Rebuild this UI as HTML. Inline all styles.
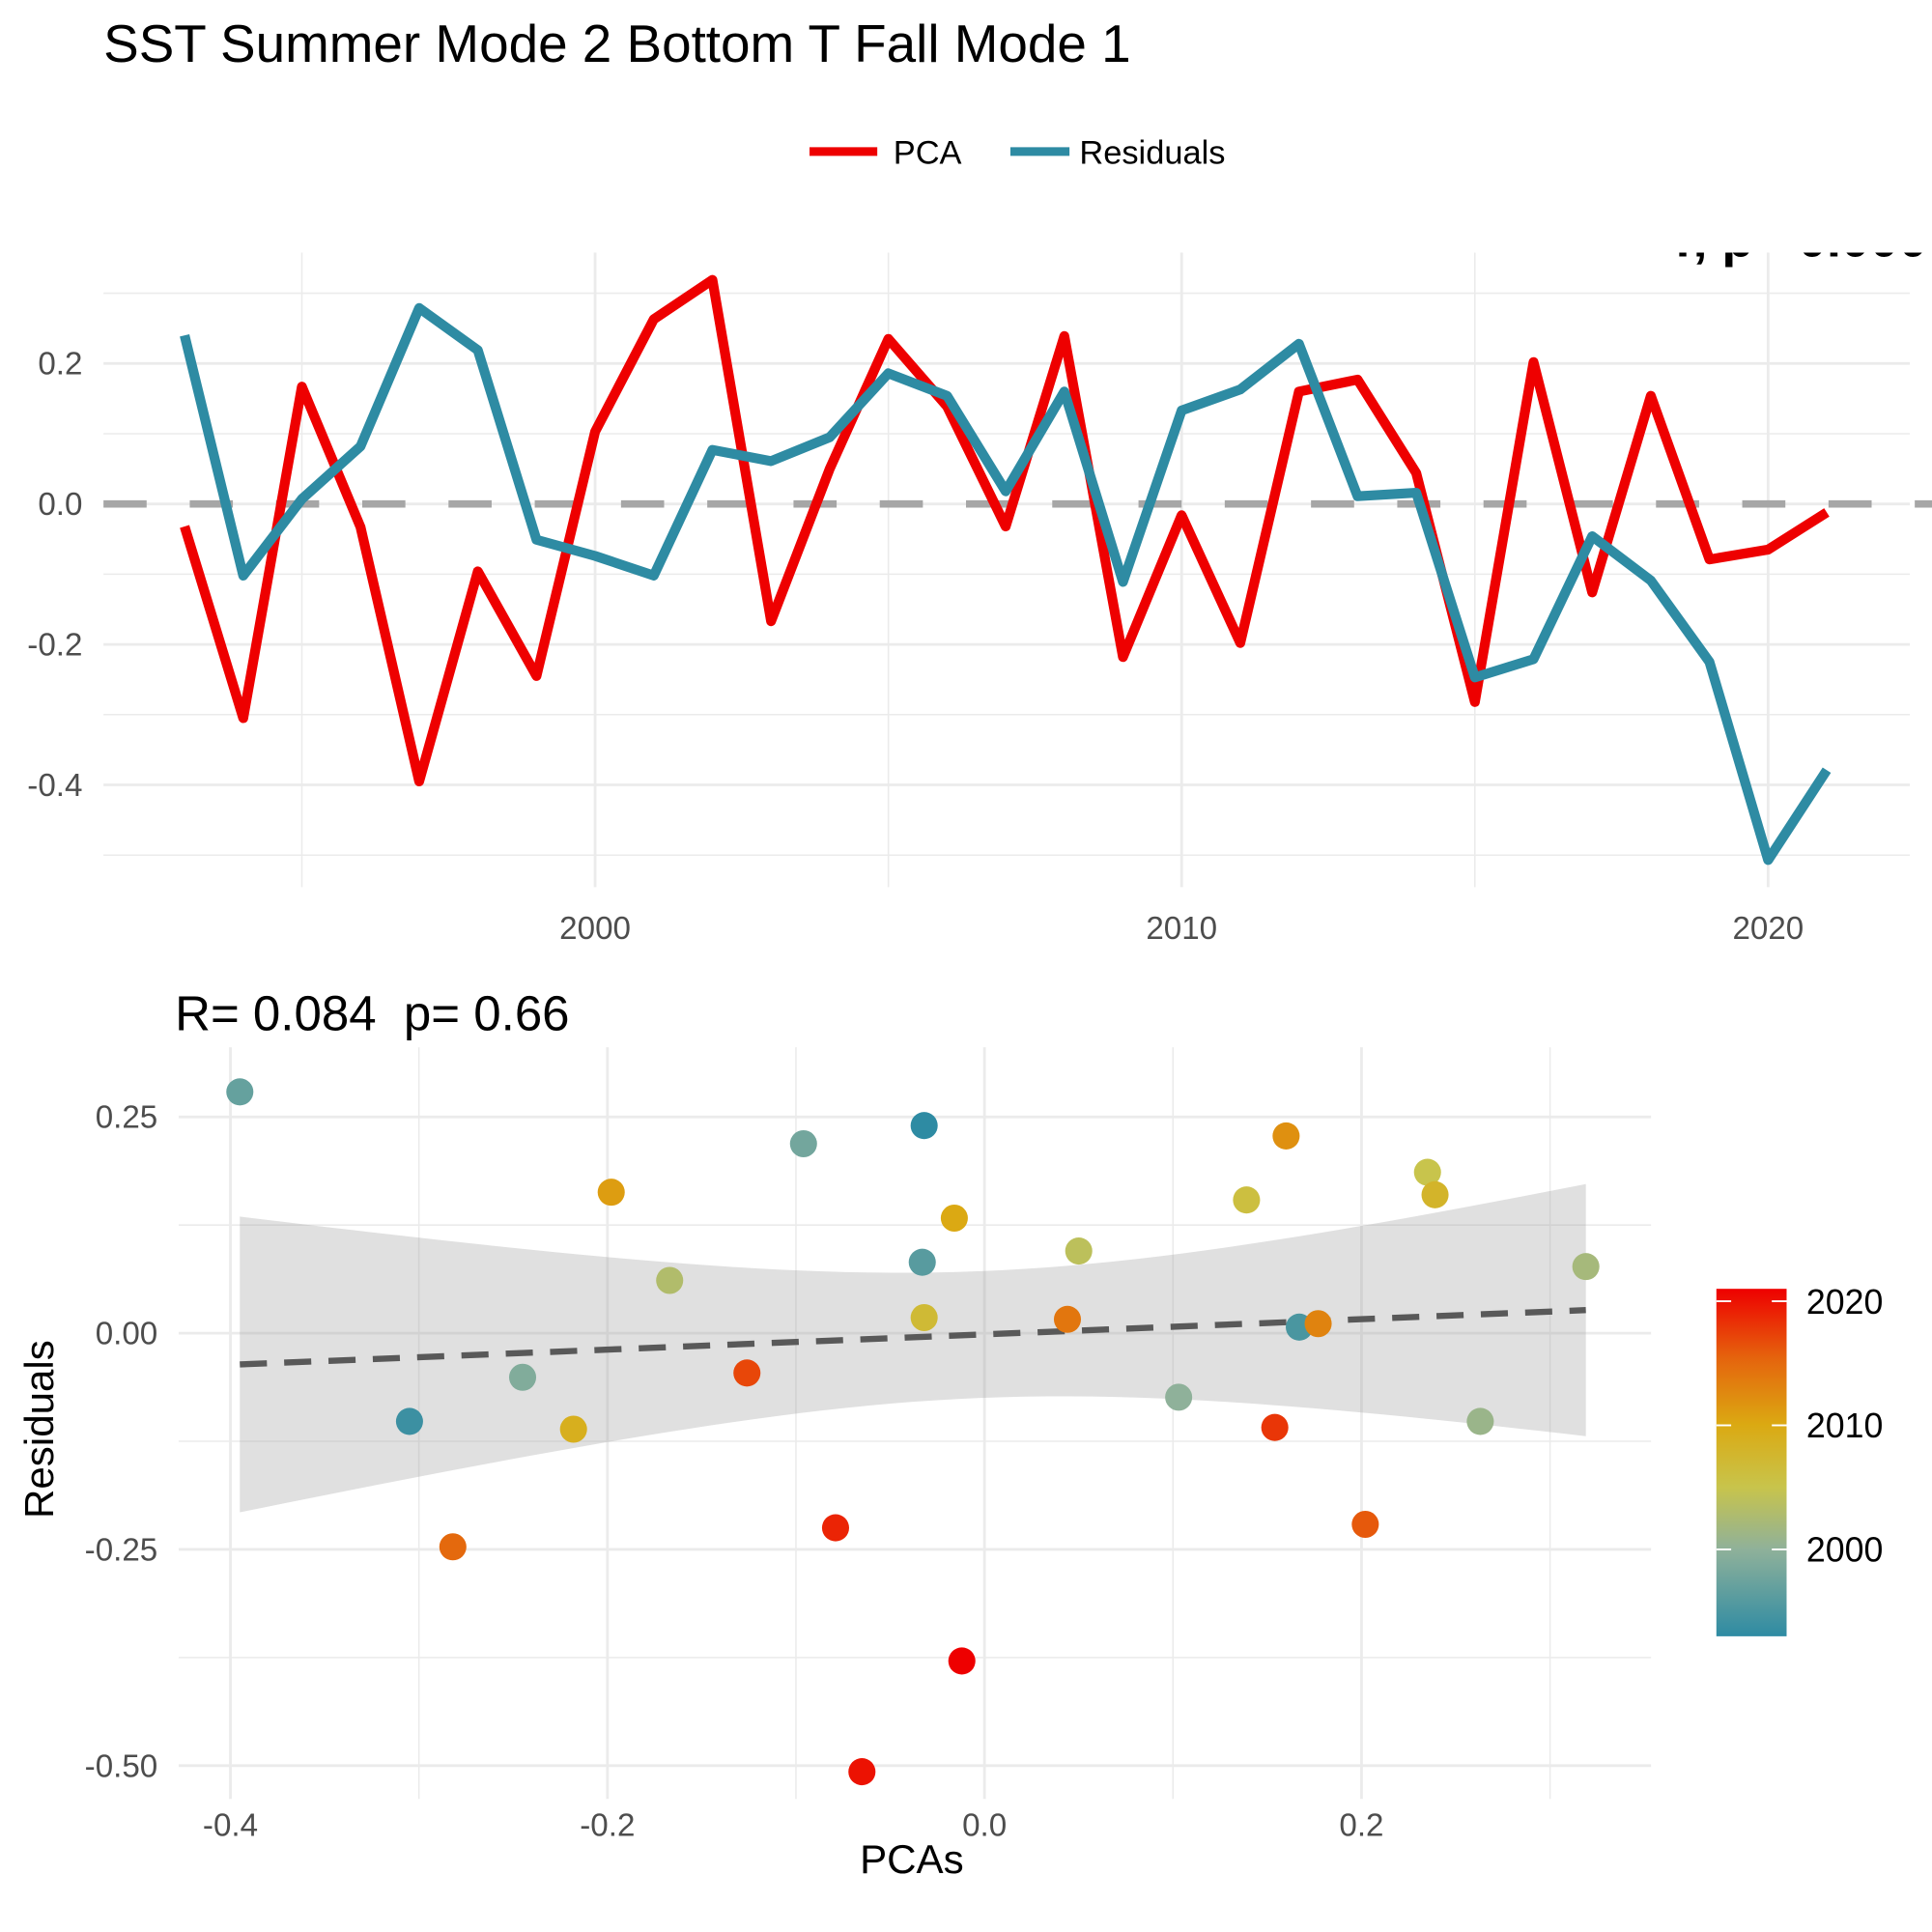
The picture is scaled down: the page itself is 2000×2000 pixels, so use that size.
<!DOCTYPE html>
<html><head><meta charset="utf-8"><style>
html,body{margin:0;padding:0;background:#fff}
svg{display:block;font-family:"Liberation Sans",Arial,sans-serif}
</style></head><body>
<svg id="chart" width="2000" height="2000" viewBox="0 0 1568 1568" xmlns="http://www.w3.org/2000/svg">
<defs>
<linearGradient id="cg" x1="0" y1="1" x2="0" y2="0">
<stop offset="0" stop-color="#2E8BA3"/><stop offset="0.25" stop-color="#8FB19A"/><stop offset="0.43" stop-color="#C8C44B"/><stop offset="0.61" stop-color="#DBA912"/><stop offset="0.8" stop-color="#E5640D"/><stop offset="1" stop-color="#EE0000"/>
</linearGradient>
<clipPath id="topclip"><rect x="84" y="205" width="1484" height="520"/></clipPath>
</defs>
<text x="84" y="50" font-size="43" fill="#000">SST Summer Mode 2 Bottom T Fall Mode 1</text>
<g>
<line x1="657" y1="123" x2="712" y2="123" stroke="#EE0000" stroke-width="7"/>
<text x="725" y="133" font-size="27">PCA</text>
<line x1="820" y1="123" x2="868" y2="123" stroke="#2E8BA3" stroke-width="7"/>
<text x="876" y="133" font-size="27">Residuals</text>
</g>
<g id="topPanel"></g>
<text x="142" y="836" font-size="40" xml:space="preserve">R= 0.084  p= 0.66</text>
<g id="botPanel"></g>
<g>
<rect x="1393" y="1046" width="57" height="282" fill="url(#cg)"/>
<g id="cbticks"></g>
</g>
<text x="740" y="1520" font-size="33" fill="#000" text-anchor="middle">PCAs</text>
<text transform="translate(43,1160) rotate(-90)" font-size="33" text-anchor="middle">Residuals</text>
</svg>
<script>
const years=[1993,1994,1995,1996,1997,1998,1999,2000,2001,2002,2003,2004,2005,2006,2007,2008,2009,2010,2011,2012,2013,2014,2015,2016,2017,2018,2019,2020,2021];
const pca=[-0.032,-0.305,0.167,-0.033,-0.395,-0.096,-0.245,0.103,0.263,0.319,-0.167,0.05,0.235,0.139,-0.032,0.239,-0.218,-0.016,-0.198,0.16,0.177,0.044,-0.282,0.202,-0.126,0.154,-0.079,-0.065,-0.012];
const resid=[0.24,-0.102,0.007,0.082,0.279,0.219,-0.051,-0.074,-0.102,0.077,0.061,0.095,0.186,0.154,0.018,0.16,-0.111,0.133,0.163,0.228,0.011,0.016,-0.247,-0.221,-0.046,-0.109,-0.225,-0.507,-0.379];
const topXTicks=[2000,2010,2020];
const topYTicks=[-0.4,-0.2,0,0.2];
const botXTicks=[-0.4,-0.2,0,0.2];
const botYTicks=[-0.5,-0.25,0,0.25];
const cbTicks=[2000,2010,2020];

const NS="http://www.w3.org/2000/svg";
function mk(p,t,a){const e=document.createElementNS(NS,t);for(const k in a)e.setAttribute(k,a[k]);p.appendChild(e);return e;}
const topG=document.getElementById('topPanel'),botG=document.getElementById('botPanel');
const tx=y=>483+(y-2000)*47.6, ty=v=>409-v*570;
for(let y=1995;y<=2020;y+=5){const l=mk(topG,'line',{x1:tx(y),x2:tx(y),y1:205,y2:720,stroke:'#EBEBEB','stroke-width':y%10==0?2.2:1.2});

}
for(let k=-5;k<=3;k++){const v=k*0.1;const l=mk(topG,'line',{x1:84,x2:1550,y1:ty(v),y2:ty(v),stroke:'#EBEBEB','stroke-width':k%2==0?2.2:1.2});

}
topXTicks.forEach(t=>{const e=mk(topG,'text',{x:tx(t),y:762,'font-size':26,fill:'#4D4D4D','text-anchor':'middle'});e.textContent=t;

});
topYTicks.forEach(t=>{const e=mk(topG,'text',{x:67,y:ty(t)+9,'font-size':26,fill:'#4D4D4D','text-anchor':'end'});e.textContent=t.toFixed(1);

});
const zl=mk(topG,'line',{x1:84,x2:1568,y1:ty(0),y2:ty(0),stroke:'#A6A6A6','stroke-width':6,'stroke-dasharray':'35 35'});


const cut=mk(topG,'text',{x:1360,y:208,'font-size':42,'font-weight':'bold','clip-path':'url(#topclip)'});cut.textContent='r, p= 0.000';


const p1=mk(topG,'polyline',{points:years.map((y,i)=>tx(y)+','+ty(pca[i])).join(' '),fill:'none',stroke:'#EE0000','stroke-width':8,'stroke-linejoin':'round'});


const p2=mk(topG,'polyline',{points:years.map((y,i)=>tx(y)+','+ty(resid[i])).join(' '),fill:'none',stroke:'#2E8BA3','stroke-width':8,'stroke-linejoin':'round'});



const bx=v=>799+v*1530, by=v=>1082-v*702;
for(let k=-4;k<=3;k++){const v=k*0.1;const l=mk(botG,'line',{x1:bx(v),x2:bx(v),y1:850,y2:1460,stroke:'#EBEBEB','stroke-width':k%2==0?2.2:1.2});

}
for(let k=-4;k<=2;k++){const v=k*0.125;const l=mk(botG,'line',{x1:145,x2:1340,y1:by(v),y2:by(v),stroke:'#EBEBEB','stroke-width':k%2==0?2.2:1.2});

}
botXTicks.forEach(t=>{const e=mk(botG,'text',{x:bx(t),y:1490,'font-size':26,fill:'#4D4D4D','text-anchor':'middle'});e.textContent=t.toFixed(1);

});
botYTicks.forEach(t=>{const e=mk(botG,'text',{x:128,y:by(t)+9,'font-size':26,fill:'#4D4D4D','text-anchor':'end'});e.textContent=t.toFixed(2);

});
const n=pca.length,mx=pca.reduce((a,b)=>a+b)/n,my=resid.reduce((a,b)=>a+b)/n;
let sxx=0,sxy=0;pca.forEach((x,i)=>{sxx+=(x-mx)**2;sxy+=(x-mx)*(resid[i]-my);});
const b=sxy/sxx,a=my-b*mx;let sse=0;pca.forEach((x,i)=>{sse+=(resid[i]-a-b*x)**2;});
const s=Math.sqrt(sse/(n-2)),tq=2.052;
const xmin=Math.min(...pca),xmax=Math.max(...pca);const up=[],lo=[];
for(let j=0;j<=60;j++){const x=xmin+(xmax-xmin)*j/60;const se=s*Math.sqrt(1/n+(x-mx)**2/sxx);const f=a+b*x;up.push(bx(x)+','+by(f+tq*se));lo.unshift(bx(x)+','+by(f-tq*se));}
const band=mk(botG,'polygon',{points:up.concat(lo).join(' '),fill:'#999','fill-opacity':0.3});


const rl=mk(botG,'line',{x1:bx(xmin),y1:by(a+b*xmin),x2:bx(xmax),y2:by(a+b*xmax),stroke:'#595959','stroke-width':5,'stroke-dasharray':'22 14'});


const stops=[[0,[46,139,163]],[0.25,[143,177,154]],[0.43,[200,196,75]],[0.61,[219,169,18]],[0.8,[229,100,13]],[1,[238,0,0]]];
function col(y){const t=(y-1993)/28;for(let i=1;i<stops.length;i++){if(t<=stops[i][0]){const t0=stops[i-1][0],c0=stops[i-1][1],t1=stops[i][0],c1=stops[i][1];const f=(t-t0)/(t1-t0);return 'rgb('+c0.map((c,k)=>Math.round(c+(c1[k]-c)*f)).join(',')+')';}}return 'rgb(238,0,0)';}
years.forEach((y,i)=>{const c=mk(botG,'circle',{cx:bx(pca[i]),cy:by(resid[i]),r:11,fill:col(y)});

});
const cb=document.getElementById('cbticks');const cy=y=>1328-(y-1993)/28*282;
cbTicks.forEach(t=>{mk(cb,'line',{x1:1393,x2:1405,y1:cy(t),y2:cy(t),stroke:'#fff','stroke-width':1.5});mk(cb,'line',{x1:1438,x2:1450,y1:cy(t),y2:cy(t),stroke:'#fff','stroke-width':1.5});
const e=mk(cb,'text',{x:1466,y:cy(t)+10,'font-size':28});e.textContent=t;

});
</script>
</body></html>
